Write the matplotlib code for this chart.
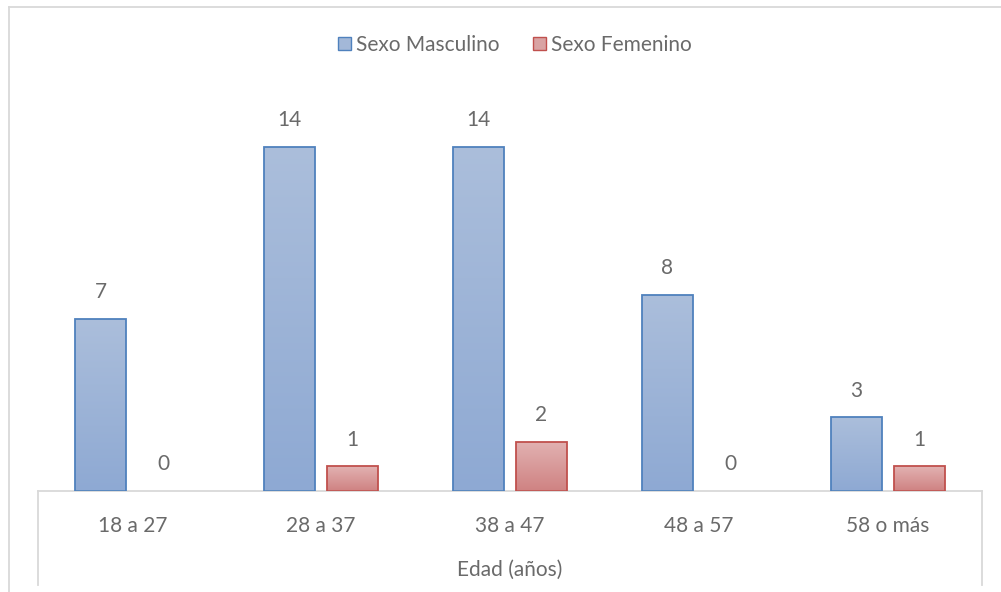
import matplotlib.pyplot as plt
import numpy as np
from matplotlib.patches import Patch
from matplotlib.lines import Line2D
from matplotlib.colors import LinearSegmentedColormap

# datos
categorias = ['18 a 27', '28 a 37', '38 a 47', '48 a 57', '58 o más']
masculino = [7, 14, 14, 8, 3]
femenino = [0, 1, 2, 0, 1]

plt.rcParams['font.family'] = ['Lato', 'DejaVu Sans']
gris = '#6a6a6a'

fig = plt.figure(figsize=(10.01, 5.92), dpi=100)
W, H = 1001, 592
ax = fig.add_axes([38 / W, (H - 491) / H, (982 - 38) / W, (491 - 98) / H])

x = np.arange(len(categorias))
ancho = 0.27
sep = 0.032 + ancho / 2

def barras_gradiente(xs, vals, c_arriba, c_abajo, borde):
    bars = ax.bar(xs, vals, ancho, facecolor='none', edgecolor=borde, linewidth=1.3, zorder=3)
    cmap = LinearSegmentedColormap.from_list('g', [c_abajo, c_arriba])
    grad = np.linspace(0, 1, 256).reshape(-1, 1)
    for b in bars:
        if b.get_height() == 0:
            b.set_visible(False)
            continue
        x0, y0, h = b.get_x(), b.get_y(), b.get_height()
        im = ax.imshow(grad, cmap=cmap, origin='lower', aspect='auto',
                       extent=[x0, x0 + b.get_width(), y0, y0 + h], zorder=2)
        im.set_clip_path(b)
    for xi, v in zip(xs, vals):
        ax.annotate(str(v), (xi, v), xytext=(0, 12), textcoords='offset points',
                    ha='center', va='bottom', fontsize=15, color=gris)
    return bars

barras_gradiente(x - sep, masculino, '#abbedb', '#8ea9d3', '#4f81bd')
barras_gradiente(x + sep, femenino, '#e2b2b2', '#cf8282', '#c0504d')

ax.set_xlim(-0.5, len(categorias) - 0.5)
ax.set_ylim(0, 16)
ax.set_yticks([])
ax.set_xticks(x)
ax.set_xticklabels(categorias, fontsize=15, color=gris)
ax.tick_params(axis='x', length=0, pad=18)
for s in ['top', 'right', 'left']:
    ax.spines[s].set_visible(False)
ax.spines['bottom'].set_color('#d9d9d9')
ax.spines['bottom'].set_linewidth(1.3)

# caja del eje de categorias y marco
linea = dict(color='#d9d9d9', linewidth=1.3)
fig.add_artist(Line2D([38 / W, 38 / W], [(H - 491) / H, (H - 585) / H], **linea))
fig.add_artist(Line2D([982 / W, 982 / W], [(H - 491) / H, (H - 585) / H], **linea))
fig.add_artist(Line2D([9 / W, 9 / W], [0, (H - 7) / H], **linea))
fig.add_artist(Line2D([9 / W, 1], [(H - 7) / H, (H - 7) / H], **linea))

fig.text(510 / W, (H - 570) / H, 'Edad (años)', ha='center', va='center', fontsize=15, color=gris)

leyenda = [Patch(facecolor='#a3b8d8', edgecolor='#4f81bd', label='Sexo Masculino'),
           Patch(facecolor='#d9a3a3', edgecolor='#c0504d', label='Sexo Femenino')]
fig.legend(handles=leyenda, loc='center', bbox_to_anchor=(515 / W, (H - 45) / H), ncol=2,
           frameon=False, fontsize=15, labelcolor=gris, handlelength=0.6, handleheight=0.6,
           handletextpad=0.25, columnspacing=1.6)

plt.savefig('out.png', dpi=100)
